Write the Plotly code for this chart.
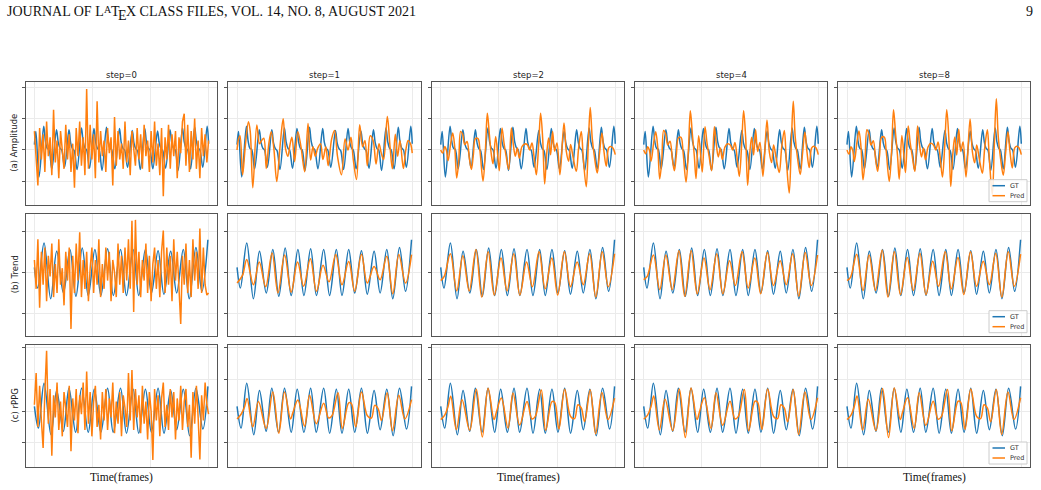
import plotly.graph_objects as go

# ---------------- data ----------------
step_titles = ["step=0", "step=1", "step=2", "step=4", "step=8"]
row_titles = ["(a) Amplitude", "(b) Trend", "(c) rPPG"]
legend_labels = ["GT", "Pred"]
x_ticks = [0, 100, 200, 300]
y_ticks = [[-1, 0, 1, 2], [-1, 0, 1], [-1, 0, 1, 2]]
y_ranges = [[-1.74, 2.16], [-1.535, 1.42], [-1.77, 2.09]]

noisy_frames = list(range(0, 301, 3))

# ----- row (a) Amplitude -----
gt_a_x = [0, 2.5, 8, 16, 19, 22, 25, 30, 38, 41, 44, 47, 52, 59.5, 62.5, 65.5, 68.5, 73.5,
          81, 84, 87, 90, 95, 102.5, 105.5, 108.5, 111.5, 116.5, 124, 127, 130, 133, 138.5,
          146.5, 149.5, 152.5, 155.5, 160.5, 168.5, 171.5, 174.5, 177.5, 182.5, 190, 193, 196,
          199, 204, 212, 215, 218, 221, 226, 233.5, 236.5, 239.5, 242.5, 247.5, 255, 258, 261,
          264, 269, 276, 279, 282, 285, 290, 297.5, 300]
gt_a_y = [0.17, 0.59, -0.86, 0.75, 0.28, 0.05, 0.02, -0.6, 0.64, 0.25, 0.06, 0.0, -0.55,
          0.64, 0.22, 0.04, -0.02, -0.62, 0.7, 0.26, 0.06, 0.0, -0.58, 0.68, 0.25, 0.05, 0.0,
          -0.65, 0.72, 0.27, 0.07, 0.01, -0.6, 0.68, 0.24, 0.05, -0.01, -0.55, 0.62, 0.22, 0.04,
          -0.02, -0.62, 0.68, 0.25, 0.06, 0.0, -0.6, 0.6, 0.22, 0.04, -0.02, -0.58, 0.64, 0.24,
          0.05, 0.0, -0.65, 0.7, 0.26, 0.06, 0.0, -0.6, 0.72, 0.27, 0.06, 0.0, -0.55, 0.75, 0.2]

pred_a0 = [0.6, -0.5, -1.13, 0.7, -0.3, 0.5, -0.7, 0.9, -0.2, 0.4,
           -0.8, 1.28, -0.4, 0.3, -0.9, 0.6, 0.1, -0.6, 0.8, -0.3,
           0.5, -0.7, 0.2, -1.2, 0.7, -0.2, 0.9, -0.5, 0.4, -0.8,
           1.94, -0.6, 0.8, -0.3, 0.5, -0.9, 1.55, -0.4, 0.6, -0.2,
           0.3, -0.7, 0.7, -0.1, 0.4, -1.13, 1.05, -0.5, 0.6, -0.3,
           0.2, -0.6, 0.9, -0.4, 0.3, -0.8, 0.6, 0.0, -0.5, 0.7,
           -0.3, 0.5, -0.6, 0.8, -0.2, 0.3, -0.7, 0.6, -0.4, 0.9,
           -0.5, 0.2, -0.8, 0.7, -1.47, 0.4, -0.3, 0.8, -0.6, 0.5,
           -0.2, 0.6, -0.9, 0.4, -0.1, 0.9, 1.15, -0.5, 0.8, -0.7,
           0.6, -0.3, 1.0, -0.6, 0.3, -0.9, 0.7, -0.2, 0.5, -0.4, 0.3]

pred_a1_x = [0, 2.5, 5, 9.5, 14, 19.5, 22.5, 27, 33.8, 38.4, 42, 45.8, 50, 54.4, 58.5, 63, 68,
             74, 79, 83, 87, 90.5, 94, 98.6, 104, 109.5, 115.8, 121.5, 126, 130, 134, 138, 143,
             147, 152, 156, 162, 167, 172, 178.8, 185, 190, 195, 199, 204.6, 210, 215, 219, 223,
             228, 233, 238, 243, 247, 251, 257.3, 262, 266, 271, 275, 279, 284.8, 289, 293, 297, 300]
pred_a1_y = [0.0, 0.35, 0.45, -0.79, 0.1, 0.9, 0.6, -1.2, 0.79, 0.2, 0.3, 0.37, -0.59, 0.2,
             0.58, 0.04, -1.0, 0.2, 0.99, 0.04, -0.2, 0.15, 0.4, -0.37, 0.58, 0.1, -0.69, 0.84,
             -0.32, 0.1, -0.2, 0.05, 0.2, -0.3, 0.1, -0.5, 0.35, 0.62, -0.2, -0.79, 0.35, 0.0,
             0.4, -0.3, -0.94, 0.8, 0.1, 0.3, -0.5, 0.45, 0.3, -0.45, 0.2, -0.1, -0.3, 1.06, 0.1,
             -0.6, 0.5, -0.2, 0.3, -0.59, 0.0, 0.3, 0.2, -0.1]

pred_a_x = [0, 3.4, 6.9, 9.7, 12.6, 17.2, 20.6, 24, 27.5, 30.9, 34.3, 37.8, 41.2, 45.2, 49.2,
            52.7, 56.1, 59.5, 64.1, 67.5, 72.7, 76.7, 80.1, 83.6, 87, 89.9, 94.4, 98.4, 100.7,
            105.3, 108.8, 112.2, 116.8, 121.4, 124.8, 128.2, 131.7, 135.1, 139.7, 144.3, 148.8,
            152.8, 156.8, 160.3, 164.3, 168.3, 171.7, 175.2, 178.6, 182, 185.5, 188.9, 192.3,
            195.8, 199.8, 204.9, 211.8, 215.8, 219.8, 223.2, 227.8, 233, 237, 241.6, 245, 250.1,
            253.6, 257, 260.4, 264.5, 269, 273, 277, 280.5, 284.5, 288.5, 291.9, 295.9, 300]
pred_a2_y = [0.0, -0.1, 0.11, 0.0, -0.34, 0.22, 0.54, 0.11, -0.89, -0.36, 0.59, 0.49, 0.17,
             0.27, -0.26, -0.62, -0.15, 0.36, 0.36, -0.04, -0.99, -0.04, 1.17, 0.49, -0.15,
             -0.44, 0.43, -0.26, -0.66, 0.7, 0.22, -0.17, -0.62, 0.7, 0.17, -0.2, 0.06, -0.26,
             0.11, 0.19, 0.17, 0.0, 0.22, -0.2, -0.79, 0.17, 1.17, 0.38, -1.08, -0.15, 0.38,
             -0.15, 0.59, -0.04, 0.22, -0.79, 0.86, -0.04, -0.36, 0.17, -0.26, -0.68, 0.06, 0.59,
             -0.26, -1.17, 0.17, 1.35, 0.38, -0.26, -0.73, -0.09, 0.54, -0.04, -0.52, 0.06, 0.11,
             0.06, -0.15]
pred_a4_y = [0.0, -0.12, 0.1, 0.0, -0.36, 0.25, 0.58, 0.1, -0.92, -0.36, 0.62, 0.5, 0.16,
             0.28, -0.28, -0.66, -0.15, 0.38, 0.4, -0.05, -1.02, -0.05, 1.25, 0.5, -0.2,
             -0.91, 0.45, -0.28, -0.7, 0.74, 0.22, -0.18, -0.66, 0.74, 0.17, -0.22, 0.06, -0.3,
             0.1, 0.2, 0.16, 0.0, 0.24, -0.22, -0.84, 0.17, 1.25, 0.4, -1.12, -0.16, 0.4,
             -0.16, 0.64, -0.05, 0.24, -0.84, 0.95, -0.05, -0.4, 0.16, -0.28, -0.72, 0.06, 0.62,
             -0.28, -1.37, 0.17, 1.55, 0.4, -0.28, -0.78, -0.1, 0.57, -0.05, -0.56, 0.06, 0.12,
             0.07, -0.15]
pred_a8_y = [0.0, -0.13, 0.1, 0.0, -0.37, 0.26, 0.6, 0.1, -0.95, -0.37, 0.64, 0.51, 0.16,
             0.29, -0.29, -0.68, -0.16, 0.4, 0.41, -0.05, -1.0, -0.05, 1.28, 0.51, -0.2,
             -0.93, 0.46, -0.29, -0.72, 0.76, 0.22, -0.18, -0.68, 0.76, 0.17, -0.22, 0.06, -0.31,
             0.1, 0.21, 0.16, 0.0, 0.25, -0.22, -0.86, 0.17, 1.28, 0.41, -1.16, -0.16, 0.41,
             -0.16, 0.66, -0.05, 0.25, -0.86, 0.98, -0.05, -0.41, 0.16, -0.29, -0.74, 0.06, 0.64,
             -0.29, -1.42, 0.17, 1.63, 0.41, -0.29, -0.8, -0.1, 0.58, -0.05, -0.57, 0.06, 0.12,
             0.07, -0.15]

# ----- row (b) Trend -----
gt_b_x = [0, 5.7, 16.6, 28, 38.4, 50, 61.2, 71.5, 82.4, 92.7, 104.2, 114.5, 126, 136, 148.3,
          158.5, 170, 179.7, 191.2, 201.5, 213, 223, 234.7, 245, 256.4, 266.7, 278.2, 288.5, 298.8]
gt_b_y = [0.12, -0.38, 0.71, -0.64, 0.51, -0.5, 0.55, -0.58, 0.59, -0.56, 0.55, -0.56, 0.57,
          -0.56, 0.55, -0.56, 0.55, -0.56, 0.55, -0.5, 0.52, -0.53, 0.51, -0.5, 0.55, -0.64,
          0.6, -0.46, 0.79]

pred_b0 = [0.3, -0.4, 0.8, -0.86, 0.5, -0.3, 0.6, -0.7, 0.4, -0.1,
           0.7, -0.6, 0.2, -0.5, 0.8, -0.3, 0.1, -0.8, 0.5, -0.2,
           0.6, -1.37, 0.4, -0.5, 0.7, -0.2, 0.97, -0.6, 0.3, -0.4,
           0.5, -0.7, 0.1, 0.6, -0.5, 0.3, -0.3, 0.8, -0.6, 0.2,
           -0.4, 0.6, -0.2, 0.5, -0.7, 0.3, 0.0, -0.6, 0.7, -0.3,
           0.4, -0.5, 0.6, -0.2, 0.8, -0.4, 1.25, -0.96, 1.27, -0.3,
           0.5, -0.6, 0.3, -0.2, 0.7, -0.5, 0.4, -0.7, 0.2, 0.6,
           -0.4, 0.3, -0.6, 0.5, 1.01, -0.5, 0.6, -0.3, 0.4, -0.7,
           0.8, -0.2, 0.5, -0.6, -1.25, 0.4, -0.3, 0.7, -0.5, 0.3,
           -0.6, 0.8, -0.2, 0.5, -0.4, 1.06, -0.5, 0.6, -0.3, -0.55, -0.5]

pred_b1_x = [0, 6, 10, 16.6, 28, 38, 49, 60, 70, 81.5, 92.7, 103.6, 114, 125.5, 136, 147.2,
             157.5, 169, 179.7, 191.2, 201.5, 213, 223, 234.7, 245, 256.4, 266.7, 277, 288.5, 298.8]
pred_b1_y = [-0.26, -0.15, -0.05, 0.31, -0.3, 0.25, -0.35, 0.47, -0.5, 0.42, -0.48, 0.25,
             -0.34, 0.33, -0.46, 0.17, -0.23, 0.43, -0.3, 0.26, -0.46, 0.44, -0.26, 0.14,
             -0.18, 0.39, -0.52, 0.43, -0.26, 0.43]

pred_b_x = [0, 6, 16.6, 27.5, 38, 49, 60.5, 70.5, 81.5, 92, 103.6, 114, 125.5, 136, 147.5,
            157.5, 169, 179.5, 191, 201, 212.5, 223, 234.5, 245, 256, 266.5, 277.5, 288, 298.8]
pred_b2_y = [-0.2, -0.1, 0.45, -0.45, 0.4, -0.45, 0.55, -0.6, 0.5, -0.55, 0.35, -0.45, 0.45,
             -0.55, 0.25, -0.35, 0.5, -0.4, 0.35, -0.55, 0.5, -0.35, 0.25, -0.3, 0.45, -0.6,
             0.5, -0.35, 0.45]
pred_b4_y = [-0.18, -0.1, 0.42, -0.42, 0.42, -0.42, 0.52, -0.58, 0.52, -0.52, 0.35, -0.42,
             0.45, -0.52, 0.28, -0.32, 0.5, -0.38, 0.35, -0.52, 0.48, -0.32, 0.28, -0.3, 0.45,
             -0.58, 0.48, -0.32, 0.42]
pred_b8_y = [-0.2, -0.12, 0.44, -0.44, 0.42, -0.44, 0.54, -0.6, 0.5, -0.54, 0.36, -0.44,
             0.46, -0.54, 0.27, -0.34, 0.5, -0.4, 0.36, -0.54, 0.5, -0.34, 0.27, -0.3, 0.46,
             -0.6, 0.5, -0.34, 0.44]

# ----- row (c) rPPG -----
gt_c_x = [0, 6.9, 16.6, 28.6, 38.4, 49.8, 59.5, 71, 81.3, 92.7, 103, 114.5, 126, 135.7, 148.3,
          158.6, 170, 179.7, 191.2, 201.5, 213, 223.2, 234.7, 245, 256.4, 267.3, 278.2, 290.2, 298.8]
gt_c_y = [0.15, -0.54, 0.88, -0.75, 0.65, -0.64, 0.72, -0.67, 0.72, -0.67, 0.69, -0.67, 0.72,
          -0.67, 0.72, -0.7, 0.69, -0.7, 0.69, -0.67, 0.72, -0.7, 0.65, -0.59, 0.69, -0.78,
          0.72, -0.57, 0.78]

pred_c0 = [0.2, 1.2, -0.5, 0.8, -0.3, -1.17, 0.6, 1.91, -0.4, 0.7,
           -1.41, 0.5, -0.2, 0.9, -0.6, 0.3, -0.8, 0.6, 0.1, -0.5,
           0.8, -1.27, 0.4, -0.3, 0.7, -0.7, 0.5, -0.1, 0.9, -0.6,
           1.25, -0.4, 0.6, -0.8, 0.3, 0.8, -0.5, 0.2, -0.9, 0.6,
           -0.3, 0.7, -0.6, 0.4, -0.2, 0.9, -0.7, 0.3, -0.4, 0.6,
           -0.8, 0.5, 0.1, -0.5, 1.2, -0.3, 1.3, -0.6, 0.7, -0.2,
           0.5, -0.7, 0.8, -0.4, 0.3, -0.9, 0.6, 0.0, -1.55, 0.7,
           -0.3, 0.5, -0.8, 0.4, 0.9, -0.5, 0.2, -0.6, 0.7, -0.2,
           0.6, -0.9, 0.4, -0.3, 0.8, -0.6, 0.3, 0.7, -0.5, 0.2,
           -1.48, 0.6, -0.4, 0.8, -0.2, -1.53, 0.5, -0.3, 0.9, 0.2, -0.1]

pred_c_x = [0, 6.9, 12.6, 17.2, 26.9, 36.6, 49.8, 61.2, 71.5, 81.3, 91.6, 95.6, 104.2, 115.6,
            124.2, 135.7, 148.3, 156.8, 162.6, 172.9, 180.3, 191.2, 195.8, 203.2, 213, 223.2,
            230, 235.8, 241.5, 247.3, 257, 266.2, 277, 287.3, 298.8]
pred_c1_y = [-0.25, -0.1, 0.12, 0.4, -0.5, 0.3, -0.55, 0.6, -0.7, 0.6, -0.25, -0.05, 0.35,
             -0.48, 0.5, -0.4, 0.25, -0.22, -0.15, 0.58, -0.55, 0.26, 0.24, -0.5, 0.6, -0.15,
             -0.22, 0.18, 0.08, -0.3, 0.58, -0.62, 0.5, -0.25, 0.36]
pred_c2_y = [-0.27, -0.13, 0.15, 0.47, -0.59, 0.36, -0.61, 0.69, -0.82, 0.72, -0.27, -0.04,
             0.41, -0.54, 0.57, -0.44, 0.3, -0.25, -0.17, 0.67, -0.61, 0.3, 0.28, -0.57, 0.69,
             -0.17, -0.24, 0.2, 0.1, -0.33, 0.67, -0.72, 0.59, -0.27, 0.41]
pred_c4_y = [-0.26, -0.12, 0.15, 0.48, -0.6, 0.37, -0.62, 0.7, -0.84, 0.73, -0.27, -0.04,
             0.42, -0.55, 0.58, -0.45, 0.31, -0.25, -0.17, 0.68, -0.62, 0.31, 0.28, -0.58, 0.7,
             -0.17, -0.24, 0.2, 0.1, -0.34, 0.68, -0.74, 0.6, -0.27, 0.42]
pred_c8_y = [-0.27, -0.13, 0.15, 0.48, -0.6, 0.37, -0.62, 0.71, -0.84, 0.73, -0.27, -0.04,
             0.42, -0.55, 0.58, -0.45, 0.31, -0.26, -0.17, 0.68, -0.62, 0.31, 0.28, -0.58, 0.7,
             -0.17, -0.24, 0.2, 0.1, -0.34, 0.68, -0.74, 0.6, -0.27, 0.42]

gt_rows = [(gt_a_x, gt_a_y), (gt_b_x, gt_b_y), (gt_c_x, gt_c_y)]
pred_rows = [
    [(noisy_frames, pred_a0, False), (pred_a1_x, pred_a1_y, True), (pred_a_x, pred_a2_y, True),
     (pred_a_x, pred_a4_y, True), (pred_a_x, pred_a8_y, True)],
    [(noisy_frames, pred_b0, False), (pred_b1_x, pred_b1_y, True), (pred_b_x, pred_b2_y, True),
     (pred_b_x, pred_b4_y, True), (pred_b_x, pred_b8_y, True)],
    [(noisy_frames, pred_c0, False), (pred_c_x, pred_c1_y, True), (pred_c_x, pred_c2_y, True),
     (pred_c_x, pred_c4_y, True), (pred_c_x, pred_c8_y, True)],
]

# ---------------- layout geometry ----------------
W, H = 1041, 490
col_px = [(25.7, 217.3), (228.3, 421.0), (432.0, 624.0), (635.0, 827.0), (838.3, 1030.0)]
row_px = [(82.0, 204.7), (213.7, 335.7), (345.0, 467.0)]

GT_COLOR = "#1f77b4"
PRED_COLOR = "#ff7f0e"
GRID = "#ebebeb"
FRAME = "#555555"
series_colors = [GT_COLOR, PRED_COLOR]

fig = go.Figure()
layout = {}

for r in range(3):
    for c in range(5):
        n = r * 5 + c + 1
        xa = "x" if n == 1 else f"x{n}"
        ya = "y" if n == 1 else f"y{n}"
        x0, x1 = col_px[c]
        y0, y1 = row_px[r]
        layout["xaxis" if n == 1 else f"xaxis{n}"] = dict(
            domain=[x0 / W, x1 / W], anchor=ya, range=[-15, 315],
            tickvals=x_ticks, showticklabels=False, ticks="",
            showgrid=True, gridcolor=GRID, gridwidth=1, zeroline=False,
            showline=True, linecolor=FRAME, linewidth=1, mirror=True,
        )
        layout["yaxis" if n == 1 else f"yaxis{n}"] = dict(
            domain=[1 - y1 / H, 1 - y0 / H], anchor=xa, range=y_ranges[r],
            tickvals=y_ticks[r], showticklabels=False, ticks="outside", ticklen=3,
            tickcolor=FRAME, tickwidth=1,
            showgrid=True, gridcolor=GRID, gridwidth=1, zeroline=False,
            showline=True, linecolor=FRAME, linewidth=1, mirror=True,
        )
        gx, gy = gt_rows[r]
        fig.add_trace(go.Scatter(
            x=gx, y=gy, mode="lines", name=legend_labels[0], xaxis=xa, yaxis=ya,
            line=dict(color=GT_COLOR, width=1.5, shape="spline", smoothing=1.0),
            showlegend=False, hoverinfo="skip"))
        px_, py_, smooth = pred_rows[r][c]
        line = dict(color=PRED_COLOR, width=1.5)
        if smooth:
            line.update(shape="spline", smoothing=1.0)
        fig.add_trace(go.Scatter(
            x=px_, y=py_, mode="lines", name=legend_labels[1], xaxis=xa, yaxis=ya,
            line=line, showlegend=False, hoverinfo="skip"))

annotations = []
shapes = []


def paper_text(text, x_px, y_px, size, family, xanchor="center", color="#111", angle=0):
    annotations.append(dict(text=text, x=x_px / W, y=1 - y_px / H, xref="paper", yref="paper",
                            showarrow=False, textangle=angle, borderpad=0,
                            font=dict(family=family, size=size, color=color),
                            xanchor=xanchor, yanchor="middle"))


# column titles
for c, t in enumerate(step_titles):
    x0, x1 = col_px[c]
    paper_text(t, (x0 + x1) / 2, 75.5, 8.5, "DejaVu Sans", color="#222")
# row titles
for r, t in enumerate(row_titles):
    y0, y1 = row_px[r]
    paper_text(t, 14.5, (y0 + y1) / 2, 8.5, "DejaVu Sans", color="#222", angle=-90)
# x labels under columns 1, 3, 5
for c in (0, 2, 4):
    x0, x1 = col_px[c]
    paper_text("Time(frames)", (x0 + x1) / 2, 477, 11.5, "Liberation Serif")

# page header (LaTeX logo composed of pieces)
SERIF = "Liberation Serif"
paper_text("JOURNAL OF L", 6, 12, 14, SERIF, xanchor="left")
paper_text("A", 103.0, 9.5, 10, SERIF, xanchor="left")
paper_text("T", 109.5, 12, 14, SERIF, xanchor="left")
paper_text("E", 117.2, 15, 14, SERIF, xanchor="left")
paper_text("X CLASS FILES, VOL. 14, NO. 8, AUGUST 2021", 125.2, 12, 14, SERIF, xanchor="left")
paper_text("9", 1034, 12, 14, SERIF, xanchor="right")

# compact legends (matplotlib-like box) in the last column of each row
for r in range(3):
    y0, y1 = row_px[r]
    bx0, bx1 = 989.0, 1027.0
    by0, by1 = y1 - 25.0, y1 - 3.0
    shapes.append(dict(type="rect", xref="paper", yref="paper",
                       x0=bx0 / W, x1=bx1 / W, y0=1 - by1 / H, y1=1 - by0 / H,
                       line=dict(color="#cccccc", width=1), fillcolor="rgba(255,255,255,0.85)",
                       layer="above"))
    for k, (lab, col) in enumerate(zip(legend_labels, series_colors)):
        ly = by0 + 6.0 + k * 10.0
        shapes.append(dict(type="line", xref="paper", yref="paper",
                           x0=(bx0 + 3.5) / W, x1=(bx0 + 16.0) / W, y0=1 - ly / H, y1=1 - ly / H,
                           line=dict(color=col, width=1.5), layer="above"))
        paper_text(lab, bx0 + 20.0, ly, 6.5, "DejaVu Sans", xanchor="left", color="#333")

fig.update_layout(
    width=W, height=H, margin=dict(l=0, r=0, t=0, b=0),
    paper_bgcolor="white", plot_bgcolor="white", showlegend=False,
    annotations=annotations, shapes=shapes, **layout,
)

fig.write_html("out.html", config={"displayModeBar": False})
